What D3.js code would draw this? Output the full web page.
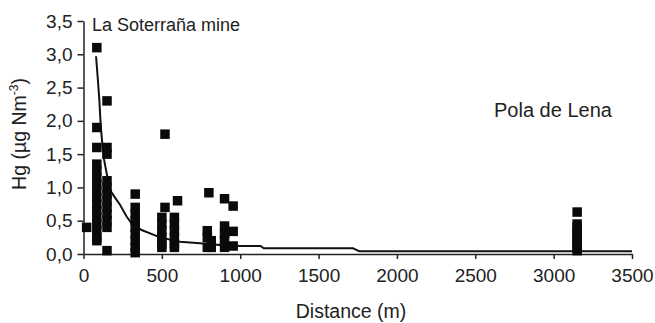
<!DOCTYPE html>
<html>
<head>
<meta charset="utf-8">
<script src="https://cdn.jsdelivr.net/npm/d3@7"></script>
<style>
  body { margin: 0; background: #fff; }
  svg { display: block; font-family: "Liberation Sans", Arial, sans-serif; }
  .axis path, .axis line { stroke: #222; stroke-width: 1.5; }
  .axis text { font-size: 19px; fill: #222; font-family: "Liberation Sans", Arial, sans-serif; }
</style>
</head>
<body>
<svg id="chart" width="655" height="323"></svg>
<script>
// measured samples: distance from mine (m) and Hg (µg Nm-3)
const distX = [
  20,
  85, 85, 85, 85, 85, 85, 85, 85, 85, 85, 85, 85, 85, 85, 85, 85,
  150, 150, 150, 150, 150, 150, 150, 150, 150, 150, 150, 150,
  330, 330, 330, 330, 330, 330, 330, 330, 330,
  520, 520, 500, 500, 500, 500, 500, 500,
  600, 580, 580, 580, 580, 580, 580,
  800, 790, 790, 790, 815, 815,
  900, 900, 900, 900, 900,
  955, 955, 955,
  3150, 3150, 3150, 3150, 3150, 3150, 3150, 3150, 3150, 3150
];
const hgY = [
  0.4,
  3.1, 1.9, 1.6, 1.35, 1.25, 1.15, 1.05, 0.95, 0.85, 0.75, 0.65, 0.55, 0.45, 0.35, 0.25, 0.2,
  2.3, 1.6, 1.5, 1.1, 1.0, 0.9, 0.8, 0.7, 0.6, 0.5, 0.4, 0.05,
  0.9, 0.7, 0.6, 0.5, 0.4, 0.3, 0.2, 0.1, 0.02,
  1.8, 0.7, 0.55, 0.45, 0.35, 0.25, 0.15, 0.1,
  0.8, 0.55, 0.45, 0.35, 0.25, 0.15, 0.1,
  0.92, 0.35, 0.25, 0.1, 0.2, 0.1,
  0.83, 0.42, 0.3, 0.2, 0.1,
  0.72, 0.34, 0.12,
  0.63, 0.45, 0.4, 0.35, 0.3, 0.25, 0.2, 0.15, 0.1, 0.05
];

// fitted decay curve
const trendX = [80, 90, 101, 110, 127, 148, 169, 200, 233, 276, 307, 371, 445, 488, 616, 743, 871, 1000, 1130, 1150, 1720, 1760, 3500];
const trendY = [2.97, 2.67, 2.32, 1.92, 1.47, 1.21, 0.96, 0.85, 0.74, 0.56, 0.46, 0.36, 0.29, 0.25, 0.185, 0.16, 0.135, 0.12, 0.12, 0.085, 0.085, 0.04, 0.04];

const xTicks = [0, 500, 1000, 1500, 2000, 2500, 3000, 3500];
const yTicks = [0, 0.5, 1, 1.5, 2, 2.5, 3, 3.5];

const margin = {left: 83.5, right: 23, top: 21, bottom: 69};
const W = 655, H = 323;

let svg = d3.select("#chart");

let x = d3.scaleLinear().domain([0, 3500]).range([margin.left, W - margin.right]);
let y = d3.scaleLinear().domain([0, 3.5]).range([H - margin.bottom, margin.top]);

let fmt = d3.formatLocale({decimal: ",", thousands: ".", grouping: [3], currency: ["", ""]}).format(".1f");

svg.append("g")
    .attr("class", "axis")
    .attr("transform", "translate(0," + y(0) + ")")
    .call(d3.axisBottom(x).tickValues(xTicks).tickFormat(d3.format("d")).tickSize(5).tickPadding(10).tickSizeOuter(0));

svg.append("g")
    .attr("class", "axis")
    .attr("transform", "translate(" + x(0) + ",0)")
    .call(d3.axisLeft(y).tickValues(yTicks).tickFormat(fmt).tickSize(6).tickPadding(5).tickSizeOuter(0));

// trend line
let line = d3.line()
    .x(function(d) { return x(d[0]); })
    .y(function(d) { return y(d[1]); });

svg.append("path")
    .datum(d3.zip(trendX, trendY))
    .attr("d", line)
    .attr("fill", "none")
    .attr("stroke", "#111")
    .attr("stroke-width", 2);

// squares
const sq = 9.5;
svg.append("g").selectAll("rect")
    .data(d3.zip(distX, hgY)).enter().append("rect")
    .attr("x", function(d) { return x(d[0]) - sq / 2; })
    .attr("y", function(d) { return y(d[1]) - sq / 2; })
    .attr("width", sq)
    .attr("height", sq)
    .attr("fill", "#0a0a0a");

// labels
svg.append("text")
    .attr("x", 92).attr("y", 31)
    .attr("font-size", 18).attr("fill", "#222")
    .text("La Soterraña mine");

svg.append("text")
    .attr("x", 494).attr("y", 117)
    .attr("font-size", 20).attr("fill", "#222")
    .text("Pola de Lena");

svg.append("text")
    .attr("x", 351).attr("y", 318)
    .attr("text-anchor", "middle")
    .attr("font-size", 19.5).attr("fill", "#222")
    .text("Distance (m)");

let yt = svg.append("text")
    .attr("transform", "translate(26,134) rotate(-90)")
    .attr("text-anchor", "middle")
    .attr("font-size", 19.5).attr("fill", "#222");
yt.append("tspan").text("Hg (µg Nm");
yt.append("tspan").attr("font-size", 12).attr("dy", -8).text("-3");
yt.append("tspan").attr("dy", 8).text(")");
</script>
</body>
</html>
